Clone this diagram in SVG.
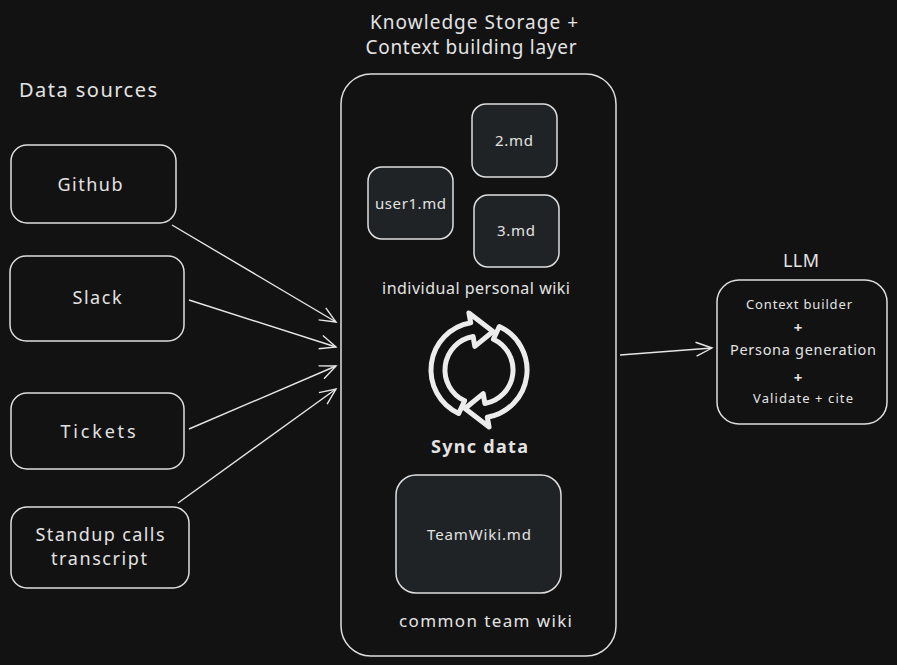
<svg xmlns="http://www.w3.org/2000/svg" width="897" height="665" viewBox="0 0 897 665">
<defs>
<style>
.bg{fill:#121212}
.box{fill:none;stroke:#dedede;stroke-width:1.5}
.md{fill:#202326;stroke:#dedede;stroke-width:1.5}
.t{font-family:"Noto Sans","Liberation Sans",sans-serif;fill:#e3e3e3;text-anchor:middle;dominant-baseline:central}
.c{fill:none;stroke:#e6e6e6;stroke-width:1.4}
.icon{fill:#121212;stroke:#ececec;stroke-width:5;stroke-linejoin:round}
</style>
<marker id="ah" viewBox="0 0 20 20" refX="18" refY="10" markerWidth="20" markerHeight="20" markerUnits="userSpaceOnUse" orient="auto">
<path d="M2,3 L18,10 L2,17" fill="none" stroke="#e6e6e6" stroke-width="1.4"/>
</marker>
</defs>
<rect class="bg" x="0" y="0" width="897" height="665"/>

<text class="t" x="474" y="22" font-size="19" textLength="208" lengthAdjust="spacing">Knowledge Storage +</text>
<text class="t" x="471" y="47" font-size="19" textLength="211" lengthAdjust="spacing">Context building layer</text>
<text class="t" x="88" y="89" font-size="20" textLength="138" lengthAdjust="spacing">Data sources</text>

<g id="github"><rect class="box" x="11" y="145" width="165" height="78" rx="16"/><text class="t" x="90" y="184" font-size="18" textLength="65" lengthAdjust="spacing">Github</text></g>
<g id="slack"><rect class="box" x="10" y="256" width="174" height="85" rx="16"/><text class="t" x="97" y="297" font-size="18" textLength="49" lengthAdjust="spacing">Slack</text></g>
<g id="tickets"><rect class="box" x="11" y="393" width="173" height="76" rx="16"/><text class="t" x="98" y="431" font-size="18" textLength="75" lengthAdjust="spacing">Tickets</text></g>
<g id="standup"><rect class="box" x="11" y="507" width="178" height="81" rx="16"/><text class="t" x="100" y="534" font-size="18" textLength="129" lengthAdjust="spacing">Standup calls</text><text class="t" x="99" y="558" font-size="18" textLength="96" lengthAdjust="spacing">transcript</text></g>

<g id="storage">
<rect class="box" x="341" y="74" width="275" height="582" rx="30"/>
<g id="user1"><rect class="md" x="368" y="167" width="85" height="72" rx="14"/><text class="t" x="410.5" y="203" font-size="15" textLength="71" lengthAdjust="spacing">user1.md</text></g>
<g id="md2"><rect class="md" x="472" y="104" width="85" height="73" rx="14"/><text class="t" x="514" y="140" font-size="15" textLength="38" lengthAdjust="spacing">2.md</text></g>
<g id="md3"><rect class="md" x="474" y="195" width="85" height="72" rx="14"/><text class="t" x="516" y="230" font-size="15" textLength="38" lengthAdjust="spacing">3.md</text></g>
<text class="t" x="476" y="288" font-size="16" textLength="188" lengthAdjust="spacing">individual personal wiki</text>
<g id="sync">
<path class="icon" d="M458.7,413.5 A48,48 0 0 1 470.7,322.7 L468.9,312.9 L493,331.5 L474.8,346.4 L473.1,336.5 A34,34 0 0 0 464.6,400.8 Z"/>
<path class="icon" transform="rotate(180 479 370)" d="M458.7,413.5 A48,48 0 0 1 470.7,322.7 L468.9,312.9 L493,331.5 L474.8,346.4 L473.1,336.5 A34,34 0 0 0 464.6,400.8 Z"/>
<text class="t" x="479.5" y="446" font-size="18" font-weight="bold" textLength="97" lengthAdjust="spacing">Sync data</text>
</g>
<g id="teamwiki"><rect class="md" x="396" y="475" width="165" height="118" rx="20"/><text class="t" x="479" y="534" font-size="15" textLength="104" lengthAdjust="spacing">TeamWiki.md</text></g>
<text class="t" x="485.5" y="620" font-size="17" textLength="173" lengthAdjust="spacing">common team wiki</text>
</g>

<g id="llm">
<text class="t" x="801" y="260" font-size="18" textLength="36" lengthAdjust="spacing">LLM</text>
<rect class="box" x="717" y="280" width="170" height="144" rx="22"/>
<text class="t" x="799" y="304" font-size="13" textLength="106" lengthAdjust="spacing">Context builder</text>
<text class="t" x="798" y="327" font-size="15" font-weight="bold">+</text>
<text class="t" x="803" y="349" font-size="14.5" textLength="146" lengthAdjust="spacing">Persona generation</text>
<text class="t" x="798" y="377" font-size="15" font-weight="bold">+</text>
<text class="t" x="803" y="398" font-size="13" textLength="100" lengthAdjust="spacing">Validate + cite</text>
</g>

<g id="connectors">
<path class="c" d="M172,225 L336,322" marker-end="url(#ah)"/>
<path class="c" d="M189,300 L336,347" marker-end="url(#ah)"/>
<path class="c" d="M189,429 L336,366" marker-end="url(#ah)"/>
<path class="c" d="M178,503 L336,389" marker-end="url(#ah)"/>
<path class="c" d="M620,355 L712,348" marker-end="url(#ah)"/>
</g>
</svg>
